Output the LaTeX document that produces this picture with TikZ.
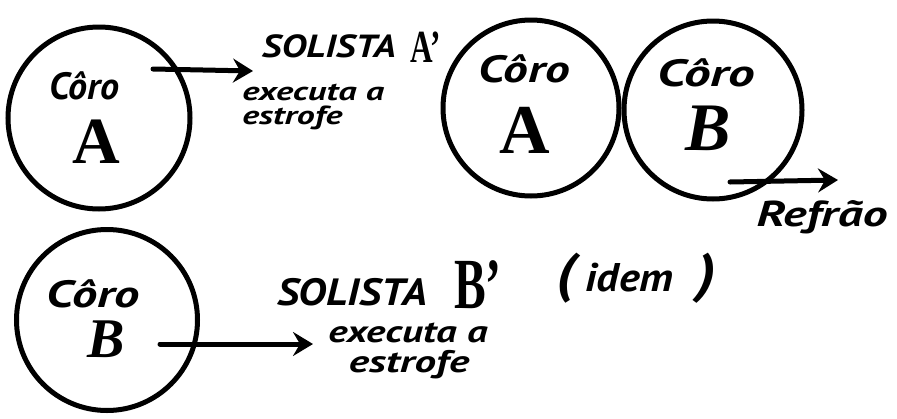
\documentclass[tikz,border=0pt]{standalone}
\usepackage{fontspec}
\newfontfamily\handfont{PT Sans}
\newfontfamily\bigfont{Liberation Serif}
\usetikzlibrary{arrows.meta}
\tikzset{
  ring/.style={circle, draw, line width=5pt, minimum size=#1, inner sep=0pt},
  hand/.style={font=\handfont\bfseries\itshape\fontsize{#1}{#1}\selectfont, inner sep=0pt, anchor=base},
  big/.style={font=\bigfont\bfseries\fontsize{#1}{#1}\selectfont, inner sep=0pt, anchor=base},
  bigit/.style={font=\bigfont\bfseries\itshape\fontsize{#1}{#1}\selectfont, inner sep=0pt, anchor=base},
  flow/.style={line width=5pt, line cap=round, -{Stealth[length=20pt,width=24pt,inset=7pt]}},
}
\begin{document}
\begin{tikzpicture}[x=1pt,y=-1pt]
\useasboundingbox (0,0) rectangle (897,418);
% circles
\node[ring=182pt] (cA) at (99,118) {};
\node[ring=176pt] (cA2) at (531,108) {};
\node[ring=178pt] (cB2) at (713,110) {};
\node[ring=181pt] (cB) at (107,320) {};
% top-left
\node[hand=38pt] (tA1) at (84,99) {Côro};
\node[big=66pt] (lA1) at (96,163) {A};
\coordinate (a1s) at (153,69);
\coordinate (a1e) at (253,71);
\draw[flow] (a1s) -- (a1e);
\node[hand=32pt, xscale=1.2] (s1) at (329,57) {SOLISTA};
\node[big=46pt, xscale=0.68] (p1) at (426,62) {A’};
\node[hand=26pt, anchor=base west, xscale=1.4] (e1) at (242,100) {executa a};
\node[hand=26pt, anchor=base west, xscale=1.38] (f1) at (242,124) {estrofe};
% top-right
\node[hand=38pt, xscale=1.3] (tA2) at (524,82) {Côro};
\node[big=70pt] (lA2) at (525,153) {A};
\node[hand=38pt, xscale=1.4] (tB2) at (706,86) {Côro};
\node[bigit=68pt] (lB2) at (708,150) {B};
\coordinate (a2s) at (730,182);
\coordinate (a2e) at (838,180);
\draw[flow] (a2s) -- (a2e);
\node[hand=36pt, xscale=1.38] (rf) at (822,226) {Refrão};
% bottom
\node[hand=38pt, xscale=1.33] (tB3) at (93,307) {Côro};
\node[bigit=56pt] (lB3) at (106,357) {B};
\coordinate (a3s) at (160,344);
\coordinate (a3e) at (313,344);
\draw[flow] (a3s) -- (a3e);
\node[hand=38pt, xscale=1.13] (s3) at (352,305) {SOLISTA};
\node[big=72pt, xscale=0.66] (p3) at (478,308) {B’};
\node[hand=31pt, xscale=1.32] (e3) at (408,342) {executa a};
\node[hand=31pt, xscale=1.39] (f3) at (409,372) {estrofe};
\node[hand=40pt, xscale=1.1] (id) at (636,291) {{\fontsize{54}{54}\selectfont(}\hspace{10pt}idem\hspace{22pt}{\fontsize{54}{54}\selectfont)}};
\end{tikzpicture}
\end{document}
